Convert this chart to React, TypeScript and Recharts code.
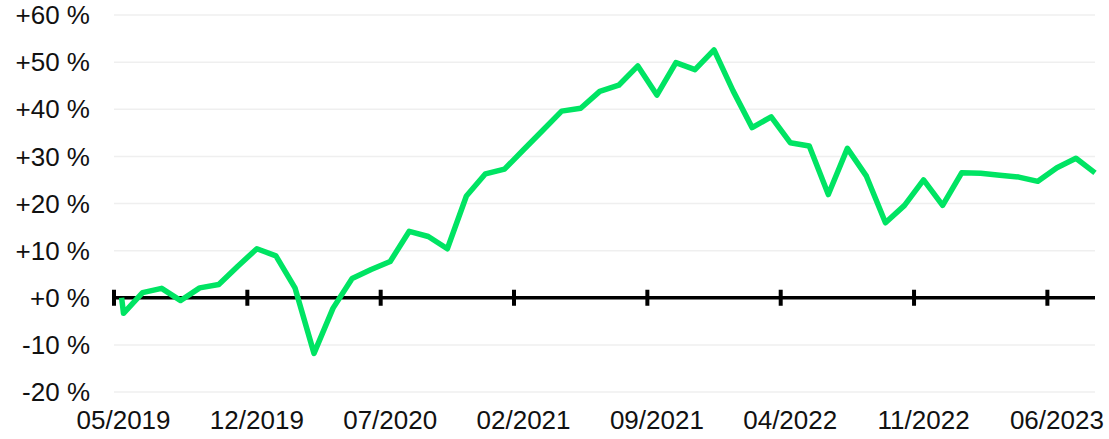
import {
  LineChart,
  Line,
  XAxis,
  YAxis,
  CartesianGrid,
  ReferenceLine,
} from 'recharts';

// months since 05/2019 (month start = 0), values are cumulative change in %
const monthOffsets = [
  0.4, 0.5, 1.5, 2.5, 3.5, 4.5, 5.5, 6.5, 7.5, 8.5, 9.5,
  10.5, 11.5, 12.5, 13.5, 14.5, 15.5, 16.5, 17.5, 18.5, 19.5,
  20.5, 21.5, 22.5, 23.5, 24.5, 25.5, 26.5, 27.5, 28.5, 29.5,
  30.5, 31.5, 32.5, 33.5, 34.5, 35.5, 36.5, 37.5, 38.5, 39.5,
  40.5, 41.5, 42.5, 43.5, 44.5, 45.5, 46.5, 47.5, 48.5, 49.5,
  50.5, 51.5,
];

const performance = [
  0, -3.3, 1.1, 2.0, -0.6, 2.1, 2.8, 6.7, 10.4, 8.9, 2.1,
  -11.8, -2.2, 4.1, 6.0, 7.7, 14.1, 13.0, 10.4, 21.6, 26.3,
  27.3, 31.4, 35.5, 39.6, 40.2, 43.8, 45.1, 49.2, 43.0, 49.9,
  48.4, 52.6, 43.9, 36.1, 38.4, 32.9, 32.2, 21.9, 31.7, 25.8,
  15.9, 19.6, 25.0, 19.6, 26.5, 26.4, 26.0, 25.6, 24.7, 27.6,
  29.6, 26.5,
];

const tickMonths = [0, 7, 14, 21, 28, 35, 42, 49];
const tickLabels = ['05/2019', '12/2019', '07/2020', '02/2021', '09/2021', '04/2022', '11/2022', '06/2023'];
const yTicks = [-20, -10, 0, 10, 20, 30, 40, 50, 60];

const data = monthOffsets.map((m, i) => ({ m, value: performance[i] }));
const labelPositions = tickMonths.map((m) => m + 0.5);

const FONT = '"Liberation Sans", Arial, sans-serif';

function fmtPct(v: number) {
  return (v >= 0 ? '+' : '') + v + ' %';
}

function fmtMonth(v: number) {
  const i = labelPositions.indexOf(v);
  return i >= 0 ? tickLabels[i] : '';
}

export default function App() {
  return (
    <div style={{ position: 'absolute', left: 0, top: 0, fontFamily: FONT }}>
      <LineChart
        width={1109}
        height={439}
        data={data}
        margin={{ top: 15, right: 14, left: 0, bottom: 0 }}
      >
        <CartesianGrid horizontal vertical={false} stroke="#efefef" strokeWidth={1.5} />
        <XAxis
          dataKey="m"
          type="number"
          domain={[0, 51.5]}
          ticks={labelPositions}
          tickFormatter={fmtMonth}
          axisLine={false}
          tickLine={false}
          tickSize={0}
          tickMargin={19}
          height={47}
          interval={0}
          tick={{ fontSize: 26, fill: '#111', fontFamily: FONT }}
        />
        <YAxis
          domain={[-20, 60]}
          ticks={yTicks}
          tickFormatter={fmtPct}
          axisLine={false}
          tickLine={false}
          tickSize={0}
          tickMargin={24}
          width={114}
          interval={0}
          tick={{ fontSize: 26, fill: '#111', fontFamily: FONT }}
        />
        <ReferenceLine y={0} stroke="#000" strokeWidth={3.5} ifOverflow="visible" />
        {tickMonths.map((m) => (
          <ReferenceLine
            key={m}
            segment={[{ x: m, y: -1.7 }, { x: m, y: 1.7 }]}
            stroke="#000"
            strokeWidth={4}
          />
        ))}
        <Line
          type="linear"
          dataKey="value"
          stroke="#00e463"
          strokeWidth={5.5}
          dot={false}
          strokeLinejoin="round"
          isAnimationActive={false}
        />
      </LineChart>
    </div>
  );
}
